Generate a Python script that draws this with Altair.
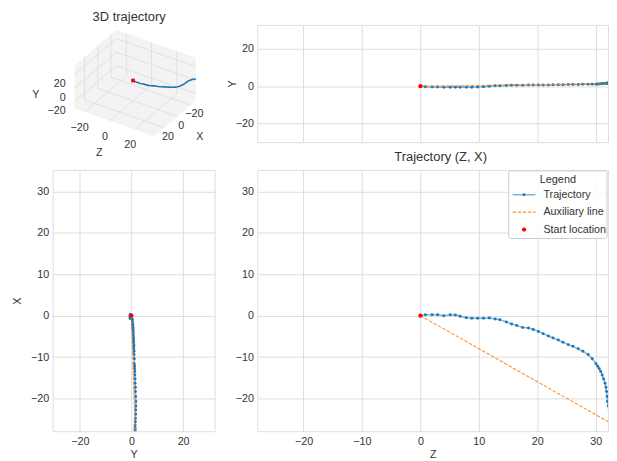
import altair as alt
import pandas as pd

# ---------------- data ----------------
traj_z = [0.0, 0.85, 2.0, 2.95, 4.0, 5.1, 6.0, 6.8, 7.85, 8.8, 9.8, 10.8, 11.8, 12.8,
          13.6, 14.7, 15.6, 16.5, 17.5, 18.5, 19.3, 20.2, 21.0, 21.9, 22.7, 23.6, 24.4,
          25.3, 26.1, 27.0, 27.8, 28.7, 29.4, 30.05, 30.35, 30.6, 30.85, 31.1, 31.35,
          31.6, 31.75, 31.85, 31.95, 32.0, 32.15, 32.3, 32.6, 32.9, 33.2, 33.5, 33.9,
          34.4, 35.0]
traj_x = [0.0, 0.2, 0.2, 0.2, 0.0, 0.25, 0.15, -0.15, -0.5, -0.6, -0.6, -0.6, -0.55, -0.8,
          -1.0, -1.5, -2.0, -2.4, -2.85, -2.95, -3.35, -3.8, -4.35, -4.9, -5.4, -5.9, -6.4,
          -7.0, -7.4, -8.0, -8.6, -9.4, -10.4, -11.6, -12.2, -12.8, -13.5, -14.3, -15.3,
          -16.3, -17.3, -18.3, -19.5, -20.7, -21.8, -22.8, -23.8, -24.8, -25.6, -26.4, -27.0,
          -27.5, -27.9]
traj_y = [0.0, -0.3, -0.4, -0.4, -0.5, -0.5, -0.5, -0.5, -0.5, -0.5, -0.4, -0.3, 0.0, 0.2,
          0.3, 0.4, 0.5, 0.5, 0.5, 0.6, 0.6, 0.7, 0.7, 0.7, 0.8, 0.8, 0.8,
          0.9, 0.9, 0.9, 1.0, 1.0, 1.1, 1.1, 1.2, 1.2, 1.3, 1.3, 1.4,
          1.4, 1.5, 1.5, 1.6, 1.7, 1.7, 1.6, 1.6, 1.5, 1.5, 1.4, 1.4,
          1.4, 1.4]

aux_z = [0.0, 35.0]
aux_x = [0.0, -27.9]
aux_y = [0.0, 1.4]

start_z = [0.0]
start_x = [0.0]
start_y = [0.0]

z_domain = [-27.9, 32.1]
x_domain = [-27.9, 35.2]
y_domain_top = [-30.0, 32.9]
y_domain_left = [-30.5, 32.2]
zx_ticks = [-20, -10, 0, 10, 20, 30]
y_ticks = [-20, 0, 20]

ticks_3d = [-20, 0, 20]
lim3d_z = [-28.0, 35.0]
lim3d_x = [-28.0, 35.0]
lim3d_y = [-30.0, 33.0]

legend_title = "Legend"
legend_labels = ["Trajectory", "Auxiliary line", "Start location"]
title_3d = "3D trajectory"
title_zx = "Trajectory (Z, X)"

# ---------------- style ----------------
BLUE = "#1f77b4"
ORANGE = "#ff7f0e"
RED = "#ff0000"
GRID = "#dedede"
TXT = "#333333"
FS_TICK = 10.8
FS_TITLE = 13
FONT = "Liberation Sans"

traj = pd.DataFrame({"Z": traj_z, "X": traj_x, "Y": traj_y, "i": list(range(len(traj_z)))})
aux = pd.DataFrame({"Z": aux_z, "X": aux_x, "Y": aux_y, "i": [0, 1]})
start = pd.DataFrame({"Z": start_z, "X": start_x, "Y": start_y})


def make_axis(title, values, labels=True, title_pad=3):
    return alt.Axis(title=title, values=values, labels=labels, grid=True, gridColor=GRID,
                    gridWidth=1, domain=False, ticks=False, tickSize=0, labelPadding=4,
                    labelFontSize=FS_TICK, labelColor=TXT, titleFontSize=FS_TICK,
                    titleFontWeight="normal", titleColor=TXT, titlePadding=title_pad,
                    labelFont=FONT, titleFont=FONT)


def panel(xf, yf, xdom, ydom, xaxis, yaxis):
    xenc = alt.X(f"{xf}:Q", scale=alt.Scale(domain=xdom, nice=False, zero=False), axis=xaxis)
    yenc = alt.Y(f"{yf}:Q", scale=alt.Scale(domain=ydom, nice=False, zero=False), axis=yaxis)
    line = alt.Chart(traj).mark_line(color=BLUE, strokeWidth=1.5, opacity=0.55, clip=True).encode(
        x=xenc, y=yenc, order="i:Q")
    pts = alt.Chart(traj).mark_circle(color=BLUE, size=9, opacity=1, clip=True).encode(x=xenc, y=yenc)
    auxl = alt.Chart(aux).mark_line(color=ORANGE, strokeWidth=1.1, strokeDash=[3.5, 1.6],
                                    opacity=0.85, clip=True).encode(x=xenc, y=yenc, order="i:Q")
    st = alt.Chart(start).mark_circle(color=RED, size=18, opacity=1, clip=True).encode(x=xenc, y=yenc)
    return [line, pts, auxl, st]


W1, W2 = 163, 353
H1, H2 = 118, 263

top_right = alt.layer(*panel("Z", "Y", z_domain, y_domain_top,
                             make_axis("", zx_ticks, labels=False),
                             make_axis("Y", y_ticks, title_pad=-2))).properties(width=W2, height=H1)

bottom_left = alt.layer(*panel("Y", "X", y_domain_left, x_domain,
                               make_axis("Y", y_ticks, title_pad=3),
                               make_axis("X", zx_ticks, title_pad=8))).properties(width=W1, height=H2)

# legend (drawn inside the Z-X panel, top right)
one = pd.DataFrame({"k": [0]})
LX0, LX1 = 253, 352
lg_box = alt.Chart(one).mark_rect(fill="white", fillOpacity=0.85, stroke="#cccccc", strokeWidth=1,
                                  cornerRadius=2, clip=True).encode(
    x=alt.value(LX0), x2=alt.value(LX1), y=alt.value(1), y2=alt.value(69))
lg_title = alt.Chart(one).mark_text(text=legend_title, fontSize=11, color=TXT, font=FONT,
                                    align="center", baseline="middle", clip=True).encode(
    x=alt.value((LX0 + LX1) / 2), y=alt.value(10))
lg_layers = [lg_box, lg_title]
for k, lab in enumerate(legend_labels):
    yy = 25 + k * 17.5
    lg_layers.append(alt.Chart(one).mark_text(text=lab, fontSize=FS_TICK, color=TXT, font=FONT,
                                              align="left", baseline="middle", clip=True).encode(
        x=alt.value(LX0 + 35), y=alt.value(yy)))
lg_layers.append(alt.Chart(one).mark_rule(color=BLUE, strokeWidth=1.5, opacity=0.55).encode(
    x=alt.value(LX0 + 4), x2=alt.value(LX0 + 27), y=alt.value(25)))
lg_layers.append(alt.Chart(one).mark_circle(color=BLUE, size=9, opacity=1).encode(
    x=alt.value(LX0 + 15.5), y=alt.value(25)))
lg_layers.append(alt.Chart(one).mark_rule(color=ORANGE, strokeWidth=1.1, strokeDash=[3.5, 1.6],
                                          opacity=0.85).encode(
    x=alt.value(LX0 + 4), x2=alt.value(LX0 + 27), y=alt.value(42.5)))
lg_layers.append(alt.Chart(one).mark_circle(color=RED, size=18, opacity=1).encode(
    x=alt.value(LX0 + 15.5), y=alt.value(60)))

bottom_right = alt.layer(*panel("Z", "X", z_domain, x_domain,
                                make_axis("Z", zx_ticks, title_pad=3),
                                make_axis("", zx_ticks, labels=True)),
                         *lg_layers).properties(
    width=W2, height=H2,
    title=alt.TitleParams(title_zx, fontSize=FS_TITLE, fontWeight="normal", color=TXT, font=FONT,
                          anchor="middle", offset=6, dx=8))

# ---------------- 3D panel (simple axonometric projection) ----------------
zmin, zmax = lim3d_z
xmin, xmax = lim3d_x
ymin, ymax = lim3d_y
B3 = (64.0, 48.0)      # screen position of (zmin, xmin, ymin) inside the panel
EZ = (80.0, 28.0)      # screen vector of the full Z range
EX = (-42.0, 36.0)     # screen vector of the full X range
EY = (0.0, -43.0)      # screen vector of the full Y range


def fr(v, lo, hi):
    return f"((datum.{v})-({lo}))/({hi - lo})"


SX = f"{B3[0]} + {fr('z', zmin, zmax)}*({EZ[0]}) + {fr('x', xmin, xmax)}*({EX[0]})"
SY = (f"{B3[1]} + {fr('z', zmin, zmax)}*({EZ[1]}) + {fr('x', xmin, xmax)}*({EX[1]})"
      f" + {fr('y', ymin, ymax)}*({EY[1]})")

sx_enc = alt.X("sx:Q", scale=alt.Scale(domain=[0, W1], nice=False, zero=False), axis=None)
sy_enc = alt.Y("sy:Q", scale=alt.Scale(domain=[0, H1], nice=False, zero=False, reverse=True), axis=None)

panes_rows = []
pane_corners = {
    "floor": [(zmin, xmin, ymin), (zmax, xmin, ymin), (zmax, xmax, ymin), (zmin, xmax, ymin)],
    "left": [(zmin, xmin, ymin), (zmin, xmax, ymin), (zmin, xmax, ymax), (zmin, xmin, ymax)],
    "back": [(zmin, xmin, ymin), (zmax, xmin, ymin), (zmax, xmin, ymax), (zmin, xmin, ymax)],
}
for name, cs in pane_corners.items():
    for k, (a, b, c) in enumerate(cs):
        panes_rows.append({"pane": name, "k": k, "z": a, "x": b, "y": c})
panes = pd.DataFrame(panes_rows)

grid_rows = []
seg_counter = [0]


def add_seg(p, q):
    g = seg_counter[0]
    grid_rows.append({"g": g, "k": 0, "z": p[0], "x": p[1], "y": p[2]})
    grid_rows.append({"g": g, "k": 1, "z": q[0], "x": q[1], "y": q[2]})
    seg_counter[0] += 1


for t in ticks_3d:
    add_seg((t, xmin, ymin), (t, xmax, ymin))      # floor, const Z
    add_seg((zmin, t, ymin), (zmax, t, ymin))      # floor, const X
    add_seg((zmin, t, ymin), (zmin, t, ymax))      # left wall, const X
    add_seg((zmin, xmin, t), (zmin, xmax, t))      # left wall, const Y
    add_seg((t, xmin, ymin), (t, xmin, ymax))      # back wall, const Z
    add_seg((zmin, xmin, t), (zmax, xmin, t))      # back wall, const Y
grid3 = pd.DataFrame(grid_rows)

traj3 = pd.DataFrame({"z": traj_z, "x": traj_x, "y": traj_y, "i": list(range(len(traj_z)))})
start3 = pd.DataFrame({"z": start_z, "x": start_x, "y": start_y})

ytick3 = pd.DataFrame({"z": [zmin] * 3, "x": [xmax] * 3, "y": ticks_3d, "t": ticks_3d})
ztick3 = pd.DataFrame({"z": ticks_3d, "x": [xmax] * 3, "y": [ymin] * 3, "t": ticks_3d})
xtick3 = pd.DataFrame({"z": [zmax] * 3, "x": ticks_3d, "y": [ymin] * 3, "t": ticks_3d})

zmid, xmid, ymid = (zmin + zmax) / 2, (xmin + xmax) / 2, (ymin + ymax) / 2
lab_z = pd.DataFrame({"z": [zmid], "x": [xmax], "y": [ymin], "lab": ["Z"]})
lab_x = pd.DataFrame({"z": [zmax], "x": [xmid], "y": [ymin], "lab": ["X"]})
lab_y = pd.DataFrame({"z": [zmin], "x": [xmax], "y": [ymid], "lab": ["Y"]})


def c3(df):
    return alt.Chart(df).transform_calculate(sx=SX, sy=SY)


l_panes = c3(panes).mark_line(filled=True, color="#f3f3f3").encode(
    x=sx_enc, y=sy_enc, detail="pane:N", order="k:Q")
l_grid = c3(grid3).mark_line(color="#dcdcdc", strokeWidth=0.8).encode(
    x=sx_enc, y=sy_enc, detail="g:N", order="k:Q")
l_traj = c3(traj3).mark_line(color=BLUE, strokeWidth=1.6).encode(x=sx_enc, y=sy_enc, order="i:Q")
l_start = c3(start3).mark_square(color=RED, size=14, opacity=1).encode(x=sx_enc, y=sy_enc)

tick_style = dict(fontSize=FS_TICK, color=TXT, font=FONT, baseline="middle")
l_ytick = c3(ytick3).mark_text(align="right", dx=-9, dy=10, **tick_style).encode(
    x=sx_enc, y=sy_enc, text=alt.Text("t:Q", format="d"))
l_ztick = c3(ztick3).mark_text(align="center", dx=-5, dy=16, **tick_style).encode(
    x=sx_enc, y=sy_enc, text=alt.Text("t:Q", format="d"))
l_xtick = c3(xtick3).mark_text(align="center", dx=4, dy=9.5, **tick_style).encode(
    x=sx_enc, y=sy_enc, text=alt.Text("t:Q", format="d"))
l_labz = c3(lab_z).mark_text(align="center", dx=-15, dy=31, **tick_style).encode(
    x=sx_enc, y=sy_enc, text="lab:N")
l_labx = c3(lab_x).mark_text(align="center", dx=25, dy=19, **tick_style).encode(
    x=sx_enc, y=sy_enc, text="lab:N")
l_laby = c3(lab_y).mark_text(align="center", dx=-39, dy=8.5, **tick_style).encode(
    x=sx_enc, y=sy_enc, text="lab:N")
l_title3 = alt.Chart(one).mark_text(text=title_3d, fontSize=FS_TITLE, color=TXT, font=FONT,
                                    align="center", baseline="middle").encode(
    x=alt.value(77), y=alt.value(-8))

chart3d = alt.layer(l_panes, l_grid, l_traj, l_start, l_ytick, l_ztick, l_xtick,
                    l_labz, l_labx, l_laby, l_title3).properties(
    width=W1, height=H1,
    view=alt.ViewBackground(stroke="transparent"))

chart = alt.concat(chart3d, top_right, bottom_left, bottom_right, columns=2,
                   spacing={"row": 28, "column": 43}, bounds="flush").properties(
    padding={"left": 3, "top": 0.5, "right": 0, "bottom": 0}
).configure(font=FONT).configure_view(stroke=GRID, strokeWidth=1)

chart.save("out.html", embed_options={"renderer": "svg", "actions": False})
